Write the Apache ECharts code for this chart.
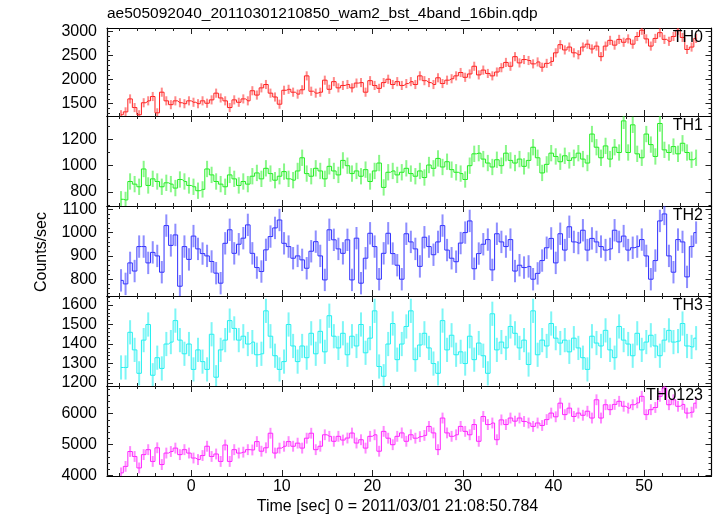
<!DOCTYPE html>
<html><head><meta charset="utf-8">
<script src="https://cdn.jsdelivr.net/npm/echarts@6/dist/echarts.min.js"></script>
<style>html,body{margin:0;padding:0;background:#fff}#c{width:717px;height:516px}</style>
</head><body><div id="c"></div>
<script>
// ---- data (0.5 s bins starting at t = -7.75 s) ----
const binStart = -7.75, binWidth = 0.5;
const th0 = [
1270,1330,1600,1420,1270,1520,1560,1650,1310,1740,
1560,1480,1560,1520,1500,1560,1530,1500,1560,1510,
1580,1720,1620,1560,1420,1580,1530,1600,1560,1770,
1680,1830,1900,1720,1640,1490,1780,1800,1740,1700,
1790,2080,1760,1720,1740,1990,1800,1960,1830,1880,
1900,1830,1930,1940,1740,1980,1880,1820,1940,2010,
1900,1960,1880,1920,1960,1900,2080,1980,1940,1900,
2040,1920,1990,2020,2080,2150,2050,2120,2280,2100,
2200,2130,2080,2160,2250,2360,2280,2480,2350,2420,
2400,2330,2370,2260,2340,2380,2560,2730,2620,2680,
2560,2520,2680,2740,2640,2700,2480,2700,2820,2720,
2840,2780,2850,2740,2900,3030,2850,2700,2860,2980,
2840,2800,2900,3030,2880,2630,2680,2860];
const th1 = [
745,740,880,860,840,975,850,900,880,840,
870,860,830,895,880,850,840,810,820,975,
930,880,860,840,930,900,850,880,860,920,
945,900,980,940,890,920,955,900,890,960,
1060,940,920,980,960,900,995,960,930,1040,
1000,940,960,920,970,880,960,1020,835,950,
960,930,950,980,940,920,960,910,1005,980,
1055,990,1030,970,950,940,895,1000,1090,1095,
1050,1020,990,1045,1000,1095,1040,1020,1050,995,
1040,1140,1060,945,1010,1095,1070,1030,1075,1040,
1060,1095,1050,1020,1240,1140,1060,1150,1050,1140,
1100,1340,1100,1310,1090,1060,1240,1160,1070,1320,
1120,1100,1145,1090,1170,1100,1045,1060];
const th2 = [
795,780,870,835,940,940,870,915,900,830,
1030,945,990,770,940,885,985,930,910,900,
876,826,783,954,1012,911,950,976,1033,911,
850,833,926,983,1020,1054,954,940,890,900,
883,847,920,961,900,797,1012,969,930,911,
969,797,976,783,890,997,940,800,911,997,
910,860,800,995,960,930,855,980,940,905,
960,1030,925,890,875,955,1000,1050,845,910,
950,970,840,995,960,940,970,835,860,850,
855,800,825,880,935,975,870,995,925,1025,
960,955,1010,925,975,960,940,925,930,1010,
960,985,925,935,940,970,900,800,880,1050,
1080,900,830,970,960,810,940,1000];
const th3 = [
1280,1280,1460,1370,1250,1420,1500,1240,1330,1275,
1400,1410,1520,1420,1350,1400,1270,1370,1310,1270,
1450,1230,1370,1420,1520,1480,1420,1440,1400,1410,
1345,1350,1570,1440,1340,1270,1310,1500,1390,1310,
1390,1330,1455,1350,1465,1360,1545,1440,1380,1455,
1345,1440,1390,1500,1355,1430,1570,1285,1235,1400,
1505,1320,1400,1490,1570,1320,1395,1455,1380,1300,
1250,1520,1370,1445,1345,1360,1300,1440,1320,1405,
1340,1250,1555,1370,1410,1380,1490,1455,1380,1420,
1295,1570,1345,1420,1390,1505,1430,1405,1420,1360,
1430,1380,1330,1270,1440,1405,1390,1470,1370,1330,
1490,1420,1400,1340,1455,1370,1410,1445,1390,1340,
1420,1470,1410,1415,1505,1390,1385,1430];
const th0123 = [
4090,4300,4780,4620,4250,4680,4840,4460,4900,4360,
4730,4780,4890,4680,4840,4730,4570,4520,4650,4950,
4620,4700,4460,4990,4460,4840,4730,4760,4840,4830,
5100,4790,4900,5370,4730,4890,4950,5100,4950,5050,
4890,5210,5370,4840,4950,5320,5270,5110,5270,5150,
5215,5376,5054,5160,4890,5270,5320,4790,5430,5210,
5000,5270,5380,5110,5320,5210,5260,5300,5590,5380,
4840,5860,5380,5270,5320,5590,5430,5320,5650,5110,
5910,5650,5700,5160,5800,5650,5860,5760,5860,5750,
5700,5590,5700,5620,5810,6020,5900,6340,5970,6180,
5910,6020,5950,6080,5860,6450,5860,6290,6130,6300,
6400,6240,6180,6290,6350,6560,5970,6130,6200,6560,
6830,6290,6450,6240,6300,6020,6050,6340];
const errTH0 = 95, errTH1 = 62, errTH2 = 48, errTH3 = 62, errTH0123 = 175;

const xTicks = [0, 10, 20, 30, 40, 50];
const th0Ticks = [1500, 2000, 2500, 3000];
const th1Ticks = [800, 1000, 1200];
const th2Ticks = [800, 900, 1000, 1100];
const th3Ticks = [1200, 1300, 1400, 1500, 1600];
const th0123Ticks = [4000, 5000, 6000];
const panelNames = ['TH0', 'TH1', 'TH2', 'TH3', 'TH0123'];
const titleText = 'ae505092040_20110301210850_wam2_bst_4band_16bin.qdp';
const xName = 'Time [sec] 0 = 2011/03/01 21:08:50.784';
const yName = 'Counts/sec';

// ---- layout / style ----
const FONT = '"Liberation Sans", Arial, Helvetica, sans-serif';
const X_MIN = -9.3, X_MAX = 57.45;
const panels = [
  {values: th0,    err: errTH0,    ticks: th0Ticks,    minor: 100, min: 1244, max: 3077, color: '#ff2020', light: 'rgba(255,40,40,0.55)'},
  {values: th1,    err: errTH1,    ticks: th1Ticks,    minor: 100, min: 694,  max: 1377, color: '#22ee22', light: 'rgba(40,240,40,0.55)'},
  {values: th2,    err: errTH2,    ticks: th2Ticks,    minor: 20,  min: 728,  max: 1114, color: '#3030ff', light: 'rgba(50,50,255,0.55)'},
  {values: th3,    err: errTH3,    ticks: th3Ticks,    minor: 20,  min: 1185, max: 1646, color: '#22f0f0', light: 'rgba(40,240,240,0.6)'},
  {values: th0123, err: errTH0123, ticks: th0123Ticks, minor: 200, min: 3990, max: 6894, color: '#ff22ff', light: 'rgba(255,40,255,0.55)'}
];
const gridTops = [28, 116, 206, 296, 386];
const gridHeights = [88, 90, 90, 90, 90];
const times = th0.map((_, i) => binStart + binWidth * i);

function minorList(min, max, step, major) {
  const out = [];
  const n0 = Math.ceil(min / step), n1 = Math.floor(max / step);
  for (let n = n0; n <= n1; n++) {
    const v = Math.round(n * step * 1000) / 1000;
    if (!major.includes(v)) out.push(v);
  }
  return out;
}
const xMinor = minorList(X_MIN, X_MAX, 2, xTicks);
const plain = v => String(v);

const grid = [], xAxis = [], yAxis = [], series = [], graphic = [];
const lineStyle = {color: '#000', width: 1.2};
const tickStyle = {color: '#222', width: 1};

panels.forEach((p, i) => {
  grid.push({left: 107, right: 5.5, top: gridTops[i], height: gridHeights[i]});
  const xb = {type: 'value', gridIndex: i, min: X_MIN, max: X_MAX, splitLine: {show: false}};
  xAxis.push(Object.assign({}, xb, {position: 'bottom',
    axisLine: {show: true, onZero: false, lineStyle},
    axisTick: {show: true, inside: true, length: 6, customValues: xTicks, lineStyle: tickStyle},
    axisLabel: {show: i === 4, customValues: xTicks, formatter: plain, fontSize: 16, color: '#000', fontFamily: FONT, margin: 3}}));
  xAxis.push(Object.assign({}, xb, {position: 'bottom',
    axisLine: {show: false, onZero: false},
    axisTick: {show: true, inside: true, length: 3, customValues: xMinor, lineStyle: tickStyle},
    axisLabel: {show: false}}));
  xAxis.push(Object.assign({}, xb, {position: 'top',
    axisLine: {show: true, onZero: false, lineStyle},
    axisTick: {show: true, inside: true, length: 6, customValues: xTicks, lineStyle: tickStyle},
    axisLabel: {show: false}}));
  xAxis.push(Object.assign({}, xb, {position: 'top',
    axisLine: {show: false, onZero: false},
    axisTick: {show: true, inside: true, length: 3, customValues: xMinor, lineStyle: tickStyle},
    axisLabel: {show: false}}));

  const yMinor = minorList(p.min, p.max, p.minor, p.ticks);
  const yb = {type: 'value', gridIndex: i, min: p.min, max: p.max, splitLine: {show: false}};
  yAxis.push(Object.assign({}, yb, {position: 'left',
    axisLine: {show: true, onZero: false, lineStyle},
    axisTick: {show: true, inside: true, length: 6, customValues: p.ticks, lineStyle: tickStyle},
    axisLabel: {show: true, customValues: p.ticks, formatter: plain, fontSize: 16, color: '#000', fontFamily: FONT, margin: 10}}));
  yAxis.push(Object.assign({}, yb, {position: 'left',
    axisLine: {show: false, onZero: false},
    axisTick: {show: true, inside: true, length: 3, customValues: yMinor, lineStyle: tickStyle},
    axisLabel: {show: false}}));
  yAxis.push(Object.assign({}, yb, {position: 'right',
    axisLine: {show: true, onZero: false, lineStyle},
    axisTick: {show: true, inside: true, length: 6, customValues: p.ticks, lineStyle: tickStyle},
    axisLabel: {show: false}}));
  yAxis.push(Object.assign({}, yb, {position: 'right',
    axisLine: {show: false, onZero: false},
    axisTick: {show: true, inside: true, length: 3, customValues: yMinor, lineStyle: tickStyle},
    axisLabel: {show: false}}));

  const err = p.err, light = p.light;
  const pts = times.map((t, k) => [t, p.values[k]]);
  // error bars
  series.push({
    type: 'custom', xAxisIndex: 4 * i, yAxisIndex: 4 * i, silent: true, clip: true,
    data: pts,
    renderItem: function (params, api) {
      const t = api.value(0), v = api.value(1);
      const cs = params.coordSys;
      const yT = cs.y, yB = cs.y + cs.height;
      const cl = y => Math.max(yT, Math.min(yB, y));
      const lo = api.coord([t, v - err]);
      const hi = api.coord([t, v + err]);
      const y1 = cl(lo[1]), y2 = cl(hi[1]);
      if (y1 === y2) return null;
      return {type: 'line', shape: {x1: lo[0], y1: y1, x2: hi[0], y2: y2},
        style: {stroke: light, lineWidth: 2}};
    }
  });
  // step line through the bins
  series.push({
    type: 'line', xAxisIndex: 4 * i, yAxisIndex: 4 * i, silent: true, step: 'middle',
    data: pts, showSymbol: false, symbol: 'none', clip: true,
    lineStyle: {color: p.color, width: 1}
  });

  graphic.push({type: 'text', x: 703, y: gridTops[i] + 10, z: 100,
    style: {text: panelNames[i], font: '16px ' + FONT, fill: '#000', align: 'right', verticalAlign: 'middle',
      textAlign: 'right', textVerticalAlign: 'middle'}});
});

graphic.push({type: 'text', x: 107, y: 14,
  style: {text: titleText, font: '15.5px ' + FONT, fill: '#000', align: 'left', verticalAlign: 'middle',
    textAlign: 'left', textVerticalAlign: 'middle'}});
graphic.push({type: 'text', x: 397.5, y: 507,
  style: {text: xName, font: '16px ' + FONT, fill: '#000', align: 'center', verticalAlign: 'middle',
    textAlign: 'center', textVerticalAlign: 'middle'}});
graphic.push({type: 'text', x: 42, y: 252, rotation: Math.PI / 2,
  style: {text: yName, font: '16px ' + FONT, fill: '#000', align: 'center', verticalAlign: 'middle',
    textAlign: 'center', textVerticalAlign: 'middle'}});

const chart = echarts.init(document.getElementById('c'), null, {renderer: 'canvas'});
chart.setOption({animation: false, backgroundColor: '#fff', grid, xAxis, yAxis, series, graphic});
</script></body></html>
